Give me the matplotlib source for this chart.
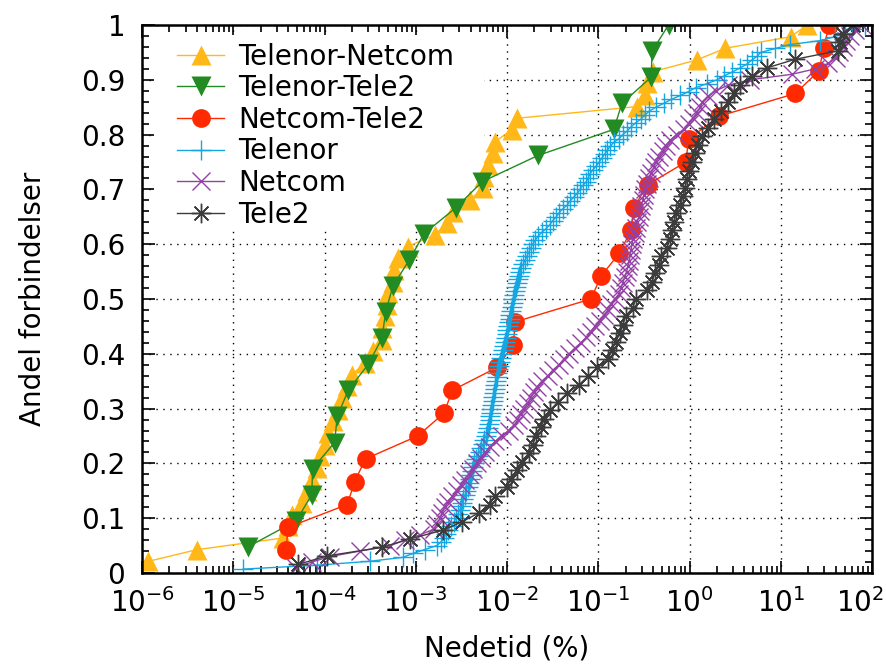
import numpy as np
import matplotlib
matplotlib.use("Agg")
import matplotlib.pyplot as plt
from matplotlib.patches import Rectangle
from matplotlib.ticker import MultipleLocator, FuncFormatter, LogLocator
import matplotlib.transforms as mtransforms

# downtime values, stored as log10(%)
telenor_netcom_log = [-5.93, -5.40, -4.46, -4.40, -4.36, -4.25, -4.19, -4.14, -4.08, -4.05,
                      -4.00, -3.96, -3.91, -3.85, -3.81, -3.75, -3.70, -3.56, -3.47, -3.37,
                      -3.37, -3.34, -3.32, -3.30, -3.25, -3.24, -3.20, -3.09, -2.79, -2.66,
                      -2.59, -2.41, -2.26, -2.25, -2.21, -2.15, -2.13, -1.95, -1.89, -0.58,
                      -0.49, -0.47, -0.40, 0.08, 0.39, 1.11, 1.29]
telenor_tele2_log = [-4.84, -4.31, -4.14, -4.13, -3.89, -3.86, -3.74, -3.52, -3.37, -3.33,
                     -3.25, -3.07, -2.91, -2.56, -2.27, -1.66, -0.83, -0.74, -0.42, -0.41,
                     -0.23]
netcom_tele2_log = [-4.42, -4.40, -3.75, -3.67, -3.55, -2.98, -2.69, -2.60, -2.11, -1.93,
                    -1.91, -1.08, -0.97, -0.77, -0.64, -0.61, -0.46, -0.04, -0.01, 0.32,
                    1.16, 1.42, 1.47, 1.53]
telenor_log = [-4.89, -4.08, -3.50, -3.14, -3.03, -2.90, -2.77, -2.72, -2.69, -2.67,
               -2.65, -2.61, -2.58, -2.56, -2.54, -2.52, -2.50, -2.49, -2.48, -2.46,
               -2.45, -2.43, -2.42, -2.41, -2.39, -2.38, -2.37, -2.36, -2.34, -2.32,
               -2.30, -2.28, -2.26, -2.25, -2.23, -2.22, -2.21, -2.20, -2.19, -2.19,
               -2.18, -2.18, -2.16, -2.15, -2.15, -2.14, -2.13, -2.13, -2.12, -2.11,
               -2.11, -2.10, -2.09, -2.08, -2.07, -2.05, -2.04, -2.03, -2.02, -2.01,
               -2.00, -2.00, -1.99, -1.98, -1.97, -1.97, -1.96, -1.95, -1.93, -1.93,
               -1.92, -1.91, -1.90, -1.89, -1.88, -1.87, -1.86, -1.85, -1.82, -1.80,
               -1.78, -1.76, -1.74, -1.72, -1.69, -1.66, -1.62, -1.57, -1.53, -1.50,
               -1.46, -1.43, -1.39, -1.34, -1.31, -1.27, -1.23, -1.20, -1.17, -1.13,
               -1.11, -1.09, -1.06, -1.02, -0.99, -0.96, -0.93, -0.90, -0.87, -0.83,
               -0.77, -0.73, -0.68, -0.64, -0.59, -0.53, -0.49, -0.44, -0.37, -0.28,
               -0.20, -0.10, -0.01, 0.07, 0.19, 0.30, 0.38, 0.47, 0.55, 0.63,
               0.68, 0.74, 0.78, 0.94, 1.10, 1.43, 1.59, 1.70, 1.78, 1.92]
netcom_log = [-4.31, -4.14, -3.94, -3.61, -3.28, -3.12, -2.95, -2.80, -2.77, -2.73,
              -2.71, -2.68, -2.65, -2.60, -2.55, -2.50, -2.46, -2.42, -2.37, -2.33,
              -2.29, -2.24, -2.19, -2.13, -2.06, -1.98, -1.92, -1.88, -1.85, -1.81,
              -1.77, -1.74, -1.70, -1.67, -1.62, -1.55, -1.50, -1.43, -1.38, -1.32,
              -1.26, -1.19, -1.13, -1.08, -1.04, -0.98, -0.94, -0.89, -0.86, -0.82,
              -0.77, -0.75, -0.73, -0.71, -0.69, -0.67, -0.66, -0.65, -0.64, -0.63,
              -0.62, -0.60, -0.59, -0.58, -0.55, -0.54, -0.53, -0.51, -0.50, -0.49,
              -0.47, -0.44, -0.42, -0.39, -0.37, -0.33, -0.29, -0.26, -0.21, -0.14,
              -0.06, -0.01, 0.04, 0.08, 0.12, 0.14, 0.20, 0.29, 0.42, 0.66,
              1.12, 1.38, 1.52, 1.61, 1.64, 1.68, 1.72, 1.76, 1.81, 1.89]
tele2_log = [-4.29, -3.97, -3.37, -3.06, -2.70, -2.49, -2.31, -2.19, -2.13, -2.00,
             -1.96, -1.89, -1.84, -1.76, -1.72, -1.68, -1.63, -1.59, -1.53, -1.44,
             -1.34, -1.21, -1.11, -1.01, -0.89, -0.85, -0.81, -0.76, -0.73, -0.70,
             -0.62, -0.59, -0.47, -0.41, -0.38, -0.33, -0.31, -0.25, -0.21, -0.19,
             -0.17, -0.15, -0.10, -0.07, -0.05, -0.03, -0.01, 0.03, 0.06, 0.09,
             0.14, 0.20, 0.27, 0.35, 0.42, 0.49, 0.55, 0.68, 0.85, 1.16,
             1.63, 1.65, 1.68, 1.79]

series = [
    ("Telenor-Netcom", telenor_netcom_log, "#ffb818", "^", 14, 0),
    ("Telenor-Tele2", telenor_tele2_log, "#228b22", "v", 14, 0),
    ("Netcom-Tele2", netcom_tele2_log, "#ff2a00", "o", 13.5, 0),
    ("Telenor", telenor_log, "#14a6e2", "+", 14, 1.0),
    ("Netcom", netcom_log, "#9440a6", "x", 13, 1.0),
    ("Tele2", tele2_log, "#3c3c3c", (8, 2, 0), 14, 1.0),
]

fig = plt.figure(figsize=(8.86, 6.64), dpi=100)
ax = fig.add_axes([142 / 886, 1 - 573 / 664, 730 / 886, 548 / 664])

for name, vals, col, mk, ms, mew in series:
    x = 10 ** np.array(vals)
    y = np.arange(1, len(x) + 1) / len(x)
    if mew == 0:
        ax.plot(x, y, color=col, lw=1.0, marker=mk, ms=ms, mec="none", label=name, zorder=2)
    else:
        ax.plot(x, y, color=col, lw=1.0, marker=mk, ms=ms, mew=mew, mec=col, label=name, zorder=2)

ax.set_xscale("log")
ax.set_xlim(1e-6, 1e2)
ax.set_ylim(0, 1)
ax.xaxis.set_major_locator(LogLocator(base=10, numticks=20))
ax.xaxis.set_minor_locator(LogLocator(base=10, subs=np.arange(2, 10), numticks=20))
ax.yaxis.set_major_locator(MultipleLocator(0.1))
ax.yaxis.set_minor_locator(MultipleLocator(0.02))
ax.yaxis.set_major_formatter(FuncFormatter(lambda v, p: f"{v:g}"))

ax.tick_params(which="both", direction="in", top=True, right=True, width=1.2, labelsize=20)
ax.tick_params(which="major", length=9)
ax.tick_params(which="minor", length=5)
ax.tick_params(axis="y", pad=12)
ax.tick_params(axis="x", pad=11)
for s in ax.spines.values():
    s.set_linewidth(1.8)

ax.grid(True, which="major", color="black", linestyle=(0, (1, 4)), linewidth=1.0)

# opaque key area (grid hidden behind it, ticks stay visible)
ax.add_patch(Rectangle((0.016, 0.626), 0.452, 0.355, transform=ax.transAxes,
                       facecolor="white", edgecolor="none", zorder=1.6))

ax.set_ylabel("Andel forbindelser", fontsize=20)
ax.yaxis.set_label_coords(-0.13, 0.5)
fig.text(507 / 886, 1 - 656 / 664, "Nedetid (%)", fontsize=20, ha="center", va="baseline")

ax.legend(loc="upper left", bbox_to_anchor=(0.048, 0.968), borderaxespad=0, borderpad=0,
          frameon=False, fontsize=20, handlelength=1.7, handletextpad=0.5, labelspacing=0.13)

fig.canvas.draw()
for lab in ax.get_xticklabels():
    if lab.get_text() and "{2}" in lab.get_text():
        lab.set_transform(lab.get_transform() + mtransforms.ScaledTranslation(-12 / 100, 0, fig.dpi_scale_trans))

plt.savefig("out.png", dpi=100)
